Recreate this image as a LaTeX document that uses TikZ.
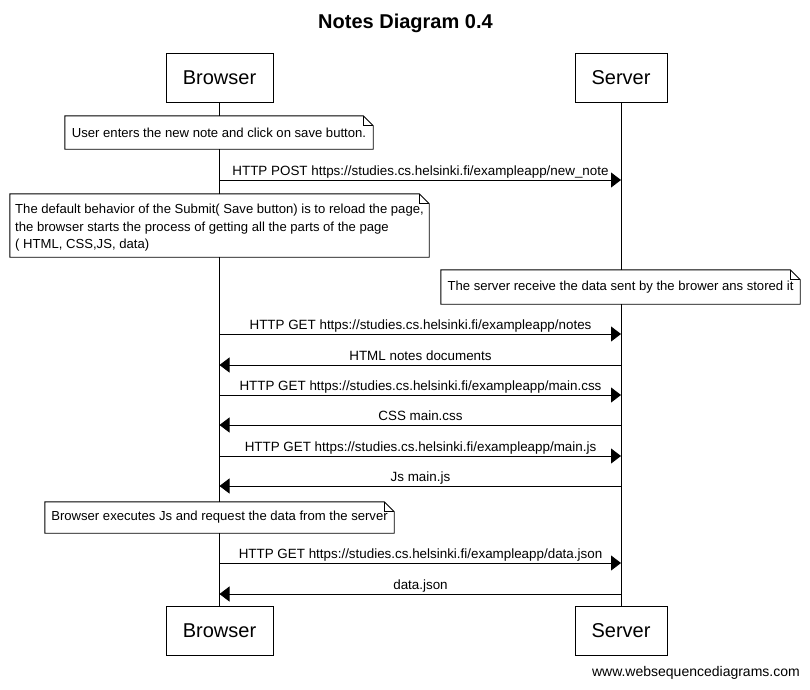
\documentclass[tikz,border=0pt]{standalone}
\usepackage{fontspec}
\setmainfont{Liberation Sans}
\usetikzlibrary{arrows.meta,calc}
\tikzset{
  part/.style={draw=black, line width=0.9pt, fill=white, font=\fontsize{20}{24}\selectfont, inner sep=0pt},
  bpart/.style={part, minimum width=107pt, minimum height=49pt},
  spart/.style={part, minimum width=92pt, minimum height=49pt},
  life/.style={line width=0.9pt},
  notebox/.style={fill=white, inner sep=0pt, font=\fontsize{13.1}{17.5}\selectfont, align=left},
  noteline/.style={line width=0.9pt},
  lbl/.style={font=\fontsize{13.4}{16}\selectfont, anchor=south, inner sep=0pt, text depth=4pt},
  msg/.style={line width=0.9pt, -{Triangle[length=10pt,width=15pt]}},
}
\newcommand\drawnote[1]{%
  \draw[noteline] (#1.north west) -- ([xshift=-10pt]#1.north east) -- ([yshift=-10pt]#1.north east) -- (#1.south east) -- (#1.south west) -- cycle;
  \draw[noteline] ([xshift=-10pt]#1.north east) -- ([xshift=-10pt,yshift=-10pt]#1.north east) -- ([yshift=-10pt]#1.north east);
}
\begin{document}
\begin{tikzpicture}[x=1pt,y=-1pt]
\useasboundingbox[fill=white] (0,0) rectangle (810,689);
% title
\node[font=\fontsize{20}{24}\selectfont\bfseries] (title) at (405.5,23) {Notes Diagram 0.4};
% participants
\node[bpart] (bt) at (219.5,77.5) {Browser};
\node[spart] (st) at (621,77.5) {Server};
\node[bpart] (bb) at (219.5,631) {Browser};
\node[spart] (sb) at (621,631) {Server};
% lifelines
\draw[life] (bt.south) -- (bb.north);
\draw[life] (st.south) -- (sb.north);
% notes
\node[notebox, minimum width=308pt, minimum height=33pt] (n1) at (219,132.5) {User enters the new note and click on save button.};
\drawnote{n1}
\node[notebox, minimum width=419pt, minimum height=63pt] (n2) at (219.5,225.5) {\rule{0pt}{14pt}The default behavior of the Submit( Save button) is to reload the page,\\the browser starts the process of getting all the parts of the page\\( HTML, CSS,JS, data)};
\drawnote{n2}
\node[notebox, minimum width=359pt, minimum height=34pt] (n3) at (620.5,287) {The server receive the data sent by the brower ans stored it};
\drawnote{n3}
\node[notebox, minimum width=349pt, minimum height=31pt] (n4) at (219.5,517.5) {Browser executes Js and request the data from the server};
\drawnote{n4}
% messages
\node[lbl] (m1) at (420.5,180) {HTTP POST https://studies.cs.helsinki.fi/exampleapp/new\_note};
\draw[msg] (bt |- m1.south) -- (st |- m1.south);
\node[lbl] (m2) at (420.5,334) {HTTP GET https://studies.cs.helsinki.fi/exampleapp/notes};
\draw[msg] (bt |- m2.south) -- (st |- m2.south);
\node[lbl] (m3) at (420.5,365) {HTML notes documents};
\draw[msg] (st |- m3.south) -- (bt |- m3.south);
\node[lbl] (m4) at (420.5,395) {HTTP GET https://studies.cs.helsinki.fi/exampleapp/main.css};
\draw[msg] (bt |- m4.south) -- (st |- m4.south);
\node[lbl] (m5) at (420.5,425) {CSS main.css};
\draw[msg] (st |- m5.south) -- (bt |- m5.south);
\node[lbl] (m6) at (420.5,456) {HTTP GET https://studies.cs.helsinki.fi/exampleapp/main.js};
\draw[msg] (bt |- m6.south) -- (st |- m6.south);
\node[lbl] (m7) at (420.5,486) {Js main.js};
\draw[msg] (st |- m7.south) -- (bt |- m7.south);
\node[lbl] (m8) at (420.5,563) {HTTP GET https://studies.cs.helsinki.fi/exampleapp/data.json};
\draw[msg] (bt |- m8.south) -- (st |- m8.south);
\node[lbl] (m9) at (420.5,594) {data.json};
\draw[msg] (st |- m9.south) -- (bt |- m9.south);
% watermark
\node[font=\fontsize{14}{16}\selectfont, anchor=base east, inner sep=0pt] (wm) at (800,676) {www.websequencediagrams.com};
\end{tikzpicture}
\end{document}
